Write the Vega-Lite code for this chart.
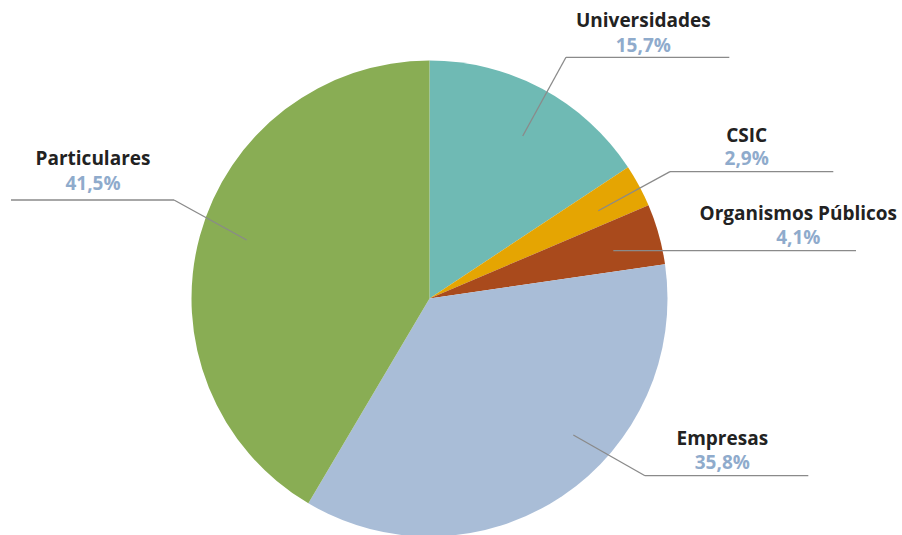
{
  "$schema": "https://vega.github.io/schema/vega-lite/v6.json",
  "width": 859,
  "height": 597,
  "autosize": {"type": "none"},
  "padding": {"left": 0, "top": 0, "right": 43, "bottom": 0},
  "background": "#ffffff",
  "config": {"view": {"stroke": null}},
  "datasets": {
    "slices": [
      {"sector": "Universidades", "share": 15.7, "ord": 1},
      {"sector": "CSIC", "share": 2.9, "ord": 2},
      {"sector": "Organismos Públicos", "share": 4.1, "ord": 3},
      {"sector": "Empresas", "share": 35.8, "ord": 4},
      {"sector": "Particulares", "share": 41.5, "ord": 5}
    ],
    "labels": [
      {"sector": "Universidades", "pctLabel": "15,7%", "lx": 89.83, "ny": 114.2, "py": 103.7},
      {"sector": "CSIC", "pctLabel": "2,9%", "lx": 133.28, "ny": 65.88, "py": 55.9},
      {"sector": "Organismos Públicos", "pctLabel": "4,1%", "lx": 154.96, "ny": 32.98, "py": 23.0},
      {"sector": "Empresas", "pctLabel": "35,8%", "lx": 123.03, "ny": -61.55, "py": -71.5},
      {"sector": "Particulares", "pctLabel": "41,5%", "lx": -141.39, "ny": 56.09, "py": 45.59}
    ],
    "leaders": [
      {"sector": "Universidades", "x1": 39.16, "y1": 68.28, "x2": 57.35, "y2": 101.34},
      {"sector": "Universidades", "x1": 57.35, "y1": 101.34, "x2": 125.97, "y2": 101.34},
      {"sector": "CSIC", "x1": 70.92, "y1": 36.89, "x2": 101.05, "y2": 53.28},
      {"sector": "CSIC", "x1": 101.05, "y1": 53.28, "x2": 169.66, "y2": 53.28},
      {"sector": "Organismos Públicos", "x1": 77.23, "y1": 20.08, "x2": 179.2, "y2": 20.08},
      {"sector": "Empresas", "x1": 60.42, "y1": -57.35, "x2": 90.55, "y2": -74.45},
      {"sector": "Empresas", "x1": 90.55, "y1": -74.45, "x2": 159.16, "y2": -74.45},
      {"sector": "Particulares", "x1": -76.81, "y1": 24.58, "x2": -107.35, "y2": 41.39},
      {"sector": "Particulares", "x1": -107.35, "y1": 41.39, "x2": -175.84, "y2": 41.39}
    ]
  },
  "layer": [
    {
      "data": {"name": "slices"},
      "mark": {"type": "arc", "outerRadius": 238, "stroke": null},
      "encoding": {
        "theta": {"field": "share", "type": "quantitative", "stack": true},
        "order": {"field": "ord", "type": "quantitative", "sort": "ascending"},
        "color": {
          "field": "sector",
          "type": "nominal",
          "legend": null,
          "scale": {
            "domain": ["Universidades", "CSIC", "Organismos Públicos", "Empresas", "Particulares"],
            "range": ["#6fbab4", "#e5a502", "#a94a1c", "#a9bdd7", "#89ad54"]
          }
        }
      }
    },
    {
      "data": {"name": "leaders"},
      "mark": {"type": "rule", "color": "#8a8a8a", "strokeWidth": 1.3},
      "encoding": {
        "x": {"field": "x1", "type": "quantitative", "axis": null, "scale": {"domain": [-180.46, 180.46], "nice": false, "zero": false}},
        "y": {"field": "y1", "type": "quantitative", "axis": null, "scale": {"domain": [-125.42, 125.42], "nice": false, "zero": false}},
        "x2": {"field": "x2"},
        "y2": {"field": "y2"}
      }
    },
    {
      "data": {"name": "labels"},
      "mark": {"type": "text", "font": "Open Sans", "fontWeight": "bold", "fontSize": 19, "color": "#222222", "align": "center", "baseline": "alphabetic"},
      "encoding": {
        "x": {"field": "lx", "type": "quantitative"},
        "y": {"field": "ny", "type": "quantitative"},
        "text": {"field": "sector"}
      }
    },
    {
      "data": {"name": "labels"},
      "mark": {"type": "text", "font": "Open Sans", "fontWeight": "bold", "fontSize": 19, "color": "#8fabcc", "align": "center", "baseline": "alphabetic"},
      "encoding": {
        "x": {"field": "lx", "type": "quantitative"},
        "y": {"field": "py", "type": "quantitative"},
        "text": {"field": "pctLabel"}
      }
    }
  ]
}
